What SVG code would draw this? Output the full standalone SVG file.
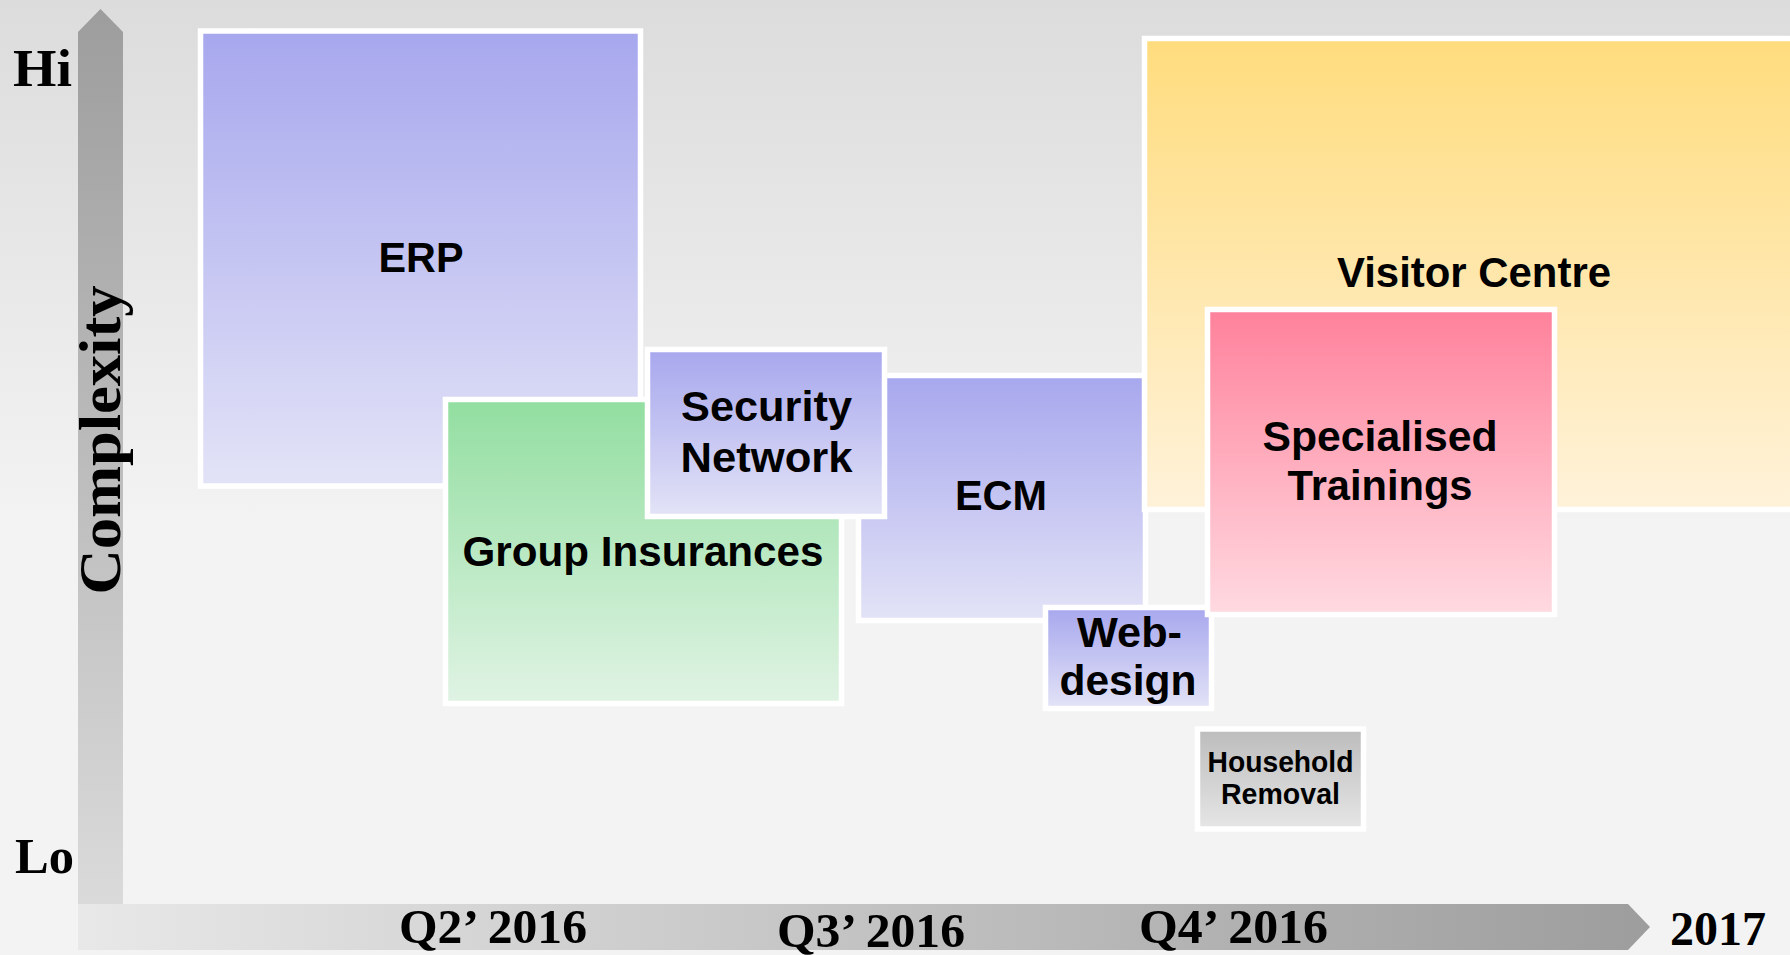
<svg xmlns="http://www.w3.org/2000/svg" width="1790" height="955" viewBox="0 0 1790 955">
<defs>
<linearGradient id="bg" x1="0" y1="0" x2="0" y2="1"><stop offset="0" stop-color="#dcdcdc"/><stop offset="0.55" stop-color="#f3f3f3"/><stop offset="1" stop-color="#f3f3f3"/></linearGradient>
<linearGradient id="gPurple" x1="0" y1="0" x2="0" y2="1"><stop offset="0" stop-color="#a7a7ee"/><stop offset="1" stop-color="#e3e3f7"/></linearGradient>
<linearGradient id="gGreen" x1="0" y1="0" x2="0" y2="1"><stop offset="0" stop-color="#92dea0"/><stop offset="1" stop-color="#e0f3e4"/></linearGradient>
<linearGradient id="gYellow" x1="0" y1="0" x2="0" y2="1"><stop offset="0" stop-color="#ffdc7d"/><stop offset="1" stop-color="#fff2da"/></linearGradient>
<linearGradient id="gPink" x1="0" y1="0" x2="0" y2="1"><stop offset="0" stop-color="#ff819b"/><stop offset="1" stop-color="#ffdae1"/></linearGradient>
<linearGradient id="gGray" x1="0" y1="0" x2="0" y2="1"><stop offset="0" stop-color="#bcbcbc"/><stop offset="1" stop-color="#e6e6e6"/></linearGradient>
<linearGradient id="gV" x1="0" y1="0" x2="0" y2="1"><stop offset="0" stop-color="#9d9d9d"/><stop offset="1" stop-color="#dadada"/></linearGradient>
<linearGradient id="gH" x1="0" y1="0" x2="1" y2="0"><stop offset="0" stop-color="#e8e8e8"/><stop offset="1" stop-color="#9d9d9d"/></linearGradient>
</defs>
<style>
.box{stroke:#ffffff;stroke-width:5.5}
.lbl{font-family:"Liberation Sans",Arial,sans-serif;font-weight:bold;font-size:42px;fill:#000;text-anchor:middle}
.small{font-size:29px}
.ax{font-family:"Liberation Serif","Times New Roman",serif;font-weight:bold;fill:#000}
</style>
<rect x="0" y="0" width="1790" height="955" fill="url(#bg)"/>
<g id="axes">
<polygon points="78,904 78,32 100.5,9 123,32 123,904" fill="url(#gV)"/>
<polygon points="78,904 1628,904 1650,927 1628,950 78,950" fill="url(#gH)"/>
<text class="ax" x="13" y="86" font-size="52" textLength="59" lengthAdjust="spacingAndGlyphs">Hi</text>
<text class="ax" x="15" y="873" font-size="50" textLength="59" lengthAdjust="spacingAndGlyphs">Lo</text>
<text class="ax" x="120" y="440" font-size="60" text-anchor="middle" transform="rotate(-90 120 440)" textLength="309" lengthAdjust="spacingAndGlyphs">Complexity</text>
<text class="ax" x="399" y="943" font-size="48" textLength="188" lengthAdjust="spacingAndGlyphs">Q2’ 2016</text>
<text class="ax" x="777" y="947" font-size="48" textLength="188" lengthAdjust="spacingAndGlyphs">Q3’ 2016</text>
<text class="ax" x="1139" y="943" font-size="48" textLength="189" lengthAdjust="spacingAndGlyphs">Q4’ 2016</text>
<text class="ax" x="1670" y="945" font-size="48" textLength="96" lengthAdjust="spacingAndGlyphs">2017</text>
</g>
<g id="erp">
<rect class="box" x="200.5" y="31" width="440" height="455" fill="url(#gPurple)"/>
<text class="lbl" x="421" y="272" textLength="85" lengthAdjust="spacingAndGlyphs">ERP</text>
</g>
<g id="group-insurances">
<rect class="box" x="445.5" y="399.5" width="396" height="304" fill="url(#gGreen)"/>
<text class="lbl" x="643" y="566" textLength="361" lengthAdjust="spacingAndGlyphs">Group Insurances</text>
</g>
<g id="ecm">
<rect class="box" x="858.5" y="375.5" width="287" height="245" fill="url(#gPurple)"/>
<text class="lbl" x="1001" y="510" textLength="92" lengthAdjust="spacingAndGlyphs">ECM</text>
</g>
<g id="security-network">
<rect class="box" x="647.5" y="349.5" width="237" height="167" fill="url(#gPurple)"/>
<text class="lbl" x="766.5" y="421" textLength="171" lengthAdjust="spacingAndGlyphs">Security</text>
<text class="lbl" x="766.5" y="471.5" textLength="172" lengthAdjust="spacingAndGlyphs">Network</text>
</g>
<g id="visitor-centre">
<rect class="box" x="1144.5" y="38.5" width="660" height="471" fill="url(#gYellow)"/>
<text class="lbl" x="1474" y="287" textLength="274" lengthAdjust="spacingAndGlyphs">Visitor Centre</text>
</g>
<g id="web-design">
<rect class="box" x="1045.5" y="607.5" width="166" height="101" fill="url(#gPurple)"/>
<text class="lbl" x="1129.5" y="647" textLength="105" lengthAdjust="spacingAndGlyphs">Web-</text>
<text class="lbl" x="1128" y="695" textLength="137" lengthAdjust="spacingAndGlyphs">design</text>
</g>
<g id="specialised-trainings">
<rect class="box" x="1207.5" y="309.5" width="347" height="305" fill="url(#gPink)"/>
<text class="lbl" x="1380" y="451" textLength="235" lengthAdjust="spacingAndGlyphs">Specialised</text>
<text class="lbl" x="1380" y="500" textLength="185" lengthAdjust="spacingAndGlyphs">Trainings</text>
</g>
<g id="household-removal">
<rect class="box" x="1197.5" y="729" width="166" height="100" fill="url(#gGray)"/>
<text class="lbl small" x="1280.5" y="772" textLength="146" lengthAdjust="spacingAndGlyphs">Household</text>
<text class="lbl small" x="1280.5" y="804" textLength="119" lengthAdjust="spacingAndGlyphs">Removal</text>
</g>
</svg>
